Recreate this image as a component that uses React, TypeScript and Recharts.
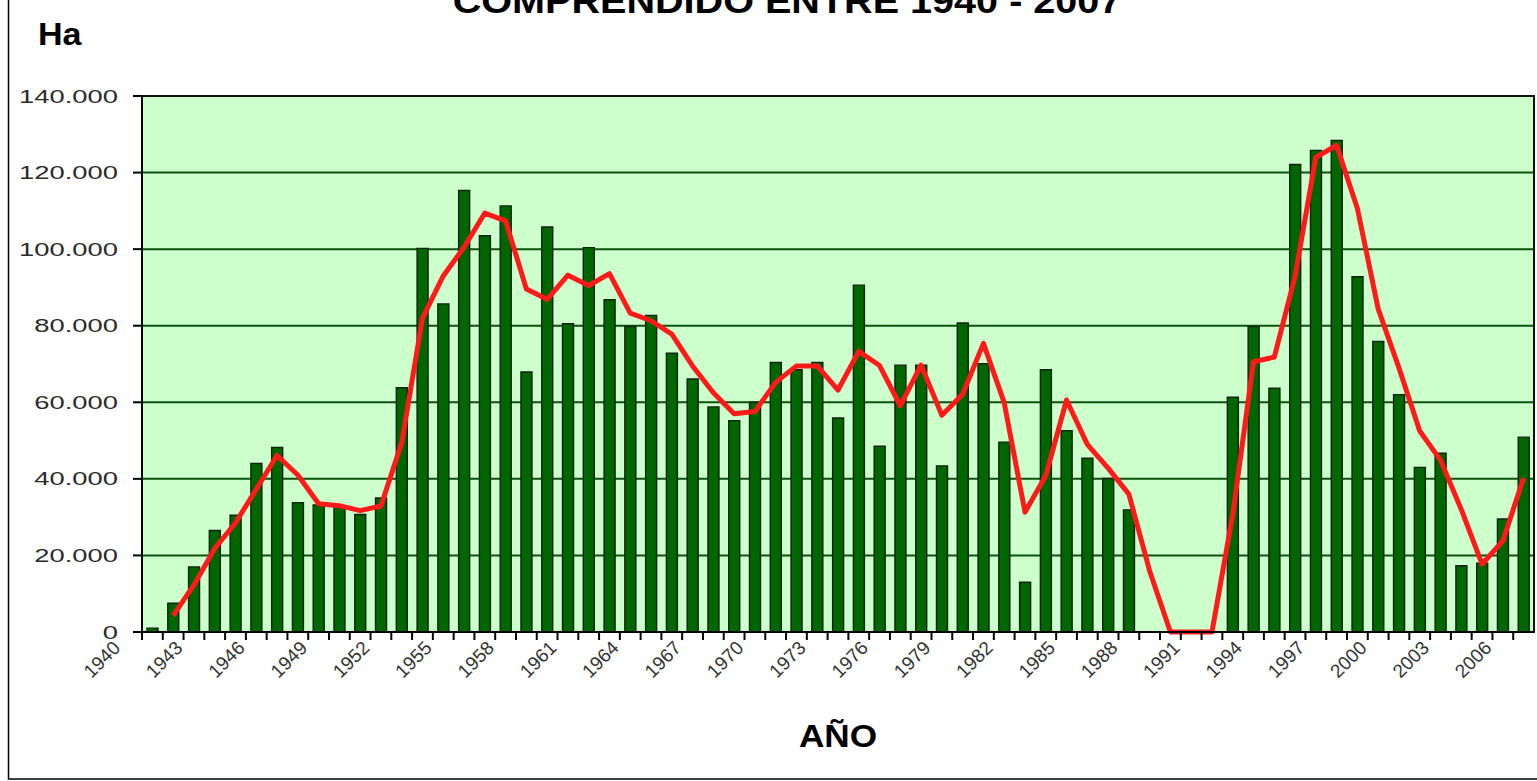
import React from 'react';
import { ComposedChart, Bar, Line, XAxis, YAxis, CartesianGrid, ReferenceArea } from 'recharts';

const years = [
  '1940','1941','1942','1943','1944','1945','1946','1947','1948','1949',
  '1950','1951','1952','1953','1954','1955','1956','1957','1958','1959',
  '1960','1961','1962','1963','1964','1965','1966','1967','1968','1969',
  '1970','1971','1972','1973','1974','1975','1976','1977','1978','1979',
  '1980','1981','1982','1983','1984','1985','1986','1987','1988','1989',
  '1990','1991','1992','1993','1994','1995','1996','1997','1998','1999',
  '2000','2001','2002','2003','2004','2005','2006',
];

const areaHa = [
  1000, 7500, 17000, 26500, 30500, 44000, 48200, 33800, 33200, 32700,
  30700, 35000, 63800, 100200, 85700, 115300, 103500, 111300, 67900, 105800,
  80500, 100400, 86800, 79800, 82700, 72800, 66100, 58800, 55200, 60000,
  70400, 68500, 70400, 55900, 90600, 48500, 69700, 69700, 43400, 80700,
  70100, 49600, 13000, 68500, 52600, 45400, 40100, 31900, 0, 0,
  0, 0, 61300, 79800, 63700, 122100, 125800, 128400, 92800, 75900,
  62000, 43000, 46700, 17300, 18000, 29500, 50900,
];

const movingAvg = [
  null, 4300, 12300, 21800, 28500, 37300, 46100, 41000, 33500, 33000,
  31700, 32900, 49400, 82000, 93000, 100500, 109400, 107400, 89600, 86900,
  93200, 90500, 93600, 83300, 81300, 77800, 69500, 62500, 57000, 57600,
  65200, 69500, 69500, 63200, 73300, 69600, 59100, 69700, 56600, 62100,
  75400, 59900, 31300, 40800, 60600, 49000, 42800, 36000, 15950, 0,
  0, 0, 30650, 70600, 71800, 92900, 124000, 127100, 110600, 84400,
  69000, 52500, 44900, 32000, 17700, 23800, 40200,
];

const yTicks = [0, 20000, 40000, 60000, 80000, 100000, 120000, 140000];

const labeledYears = [
  '1940','1943','1946','1949','1952','1955','1958','1961','1964','1967','1970','1973',
  '1976','1979','1982','1985','1988','1991','1994','1997','2000','2003','2006',
];

const W = 1537;
const H = 781;
const Y_AXIS_W = 142;
const RIGHT = 3;
const BAND = (W - Y_AXIS_W - RIGHT) / years.length;
const FONT = '"Liberation Sans", Arial, sans-serif';

const data = years.map((year, i) => ({ year, ha: areaHa[i], trend: movingAvg[i] }));

const fmt = (v: number) => String(v).replace(/\B(?=(\d{3})+(?!\d))/g, '.');

function XTick(props: any) {
  const { x, y, payload } = props;
  const axisY = y - 8;
  const lx = x - BAND / 2;
  const show = labeledYears.includes(payload.value);
  const tx = x - 31;
  const ty = axisY + 17;
  return (
    <g>
      <line x1={lx} x2={lx} y1={axisY} y2={axisY + 8} stroke="#000" strokeWidth={2} />
      {show && (
        <text
          x={tx}
          y={ty}
          textAnchor="end"
          transform={`rotate(-45, ${tx}, ${ty})`}
          fontSize={19}
          fontFamily={FONT}
          fill="#333"
        >
          {payload.value}
        </text>
      )}
    </g>
  );
}

function YTick(props: any) {
  const { x, y, payload } = props;
  return (
    <text
      transform={`translate(${x}, ${y + 6.5}) scale(1.48, 1)`}
      textAnchor="end"
      fontSize={18.5}
      fontFamily={FONT}
      fill="#2a2a2a"
    >
      {fmt(payload.value)}
    </text>
  );
}

export default function App() {
  return (
    <div style={{ position: 'absolute', left: 0, top: 0, width: W, height: H, background: '#fff', overflow: 'hidden' }}>
      <ComposedChart
        width={W}
        height={H}
        data={data}
        margin={{ top: 96, right: RIGHT, bottom: 49, left: 0 }}
      >
        <CartesianGrid vertical={false} fill="#ccffcc" stroke="#0b530b" strokeWidth={2} />
        <XAxis
          dataKey="year"
          interval={0}
          tickLine={false}
          tickSize={8}
          tickMargin={0}
          height={100}
          axisLine={{ stroke: '#000', strokeWidth: 2 }}
          tick={<XTick />}
        />
        <YAxis
          width={Y_AXIS_W}
          domain={[0, 140000]}
          ticks={yTicks}
          tickSize={9}
          tickMargin={15}
          interval={0}
          axisLine={{ stroke: '#000', strokeWidth: 2 }}
          tickLine={{ stroke: '#000', strokeWidth: 2 }}
          tick={<YTick />}
        />
        <Bar dataKey="ha" fill="#006600" stroke="#0f220f" strokeWidth={1.4} barSize={11} isAnimationActive={false} />
        <Line
          dataKey="trend"
          type="linear"
          stroke="#ff1a1a"
          strokeWidth={5}
          dot={false}
          activeDot={false}
          strokeLinejoin="round"
          isAnimationActive={false}
        />
        <ReferenceArea y1={0} y2={140000} fill="none" fillOpacity={0} stroke="#111" strokeWidth={2} ifOverflow="visible" />
      </ComposedChart>
      <svg
        width={W}
        height={H}
        style={{ position: 'absolute', left: 0, top: 0, pointerEvents: 'none' }}
      >
        <rect x={8.5} y={-10} width={1600} height={789} fill="none" stroke="#000" strokeWidth={1.5} />
        <text
          transform="translate(787, 13) scale(1.1, 1)"
          textAnchor="middle"
          fontSize={36}
          fontWeight="bold"
          fontFamily={FONT}
          fill="#000"
        >
          COMPRENDIDO ENTRE 1940 - 2007
        </text>
        <text
          transform="translate(38, 45) scale(1.1, 1)"
          fontSize={31}
          fontWeight="bold"
          fontFamily={FONT}
          fill="#000"
        >
          Ha
        </text>
        <text
          transform="translate(838, 747) scale(1.1, 1)"
          textAnchor="middle"
          fontSize={32}
          fontWeight="bold"
          fontFamily={FONT}
          fill="#000"
        >
          AÑO
        </text>
      </svg>
    </div>
  );
}
